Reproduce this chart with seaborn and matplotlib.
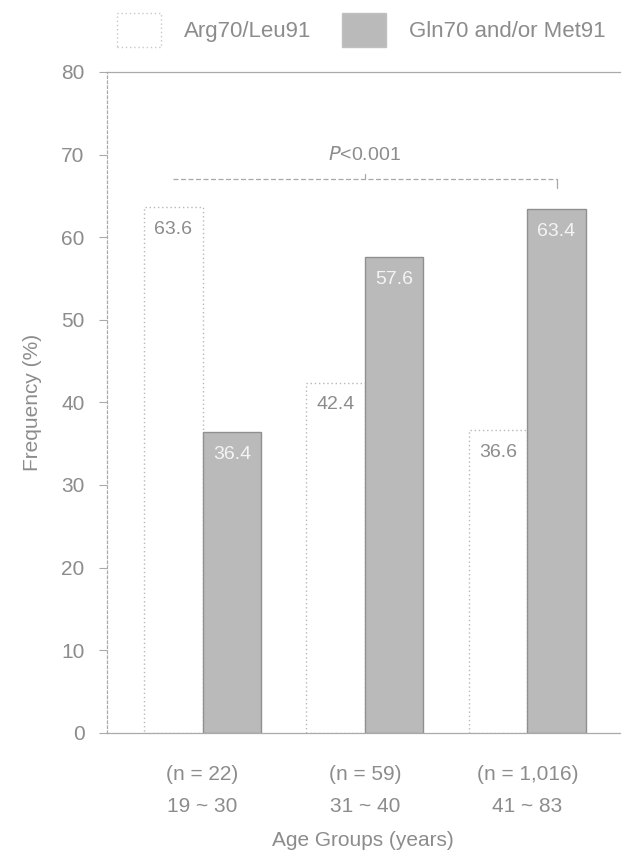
import pandas as pd
import numpy as np
import matplotlib.pyplot as plt
import seaborn as sns
from matplotlib.patches import Patch

# Data
groups = ['(n = 22)\n19 ~ 30', '(n = 59)\n31 ~ 40', '(n = 1,016)\n41 ~ 83']
genotypes = ['Arg70/Leu91', 'Gln70 and/or Met91']
arg_leu = [63.6, 42.4, 36.6]
gln_met = [36.4, 57.6, 63.4]

df = pd.DataFrame({
    'group': groups * 2,
    'genotype': [genotypes[0]] * 3 + [genotypes[1]] * 3,
    'freq': arg_leu + gln_met,
})

sns.set_style('white')
plt.rcParams['font.family'] = ['Liberation Sans', 'DejaVu Sans']
txt = '#8c8c8c'
grey = '#bababa'

fig = plt.figure(figsize=(6.28, 8.57), dpi=100)
ax = fig.add_axes([0.170, 0.145, 0.817, 0.771])

sns.barplot(data=df, x='group', y='freq', hue='genotype', order=groups,
            hue_order=genotypes, palette={genotypes[0]: 'white', genotypes[1]: grey},
            width=0.72, ax=ax, legend=False)

for bar in ax.containers[0]:
    bar.set_edgecolor('#b8b8b8')
    bar.set_linestyle((0, (1, 2)))
    bar.set_linewidth(1.0)
for bar in ax.containers[1]:
    bar.set_edgecolor('#909090')
    bar.set_linewidth(1.0)

ax.bar_label(ax.containers[0], fmt='%.1f', padding=-22, color=txt, fontsize=14)
ax.bar_label(ax.containers[1], fmt='%.1f', padding=-22, color='#f4f4f4', fontsize=14)

ax.set_ylim(0, 80)
ax.set_xlim(-0.59, 2.57)
ax.set_yticks(range(0, 81, 10))
ax.tick_params(axis='y', which='major', left=True, length=6, width=0.8,
               color='#aaaaaa', labelcolor=txt, labelsize=15, pad=10)
ax.tick_params(axis='x', bottom=False, labelcolor=txt, labelsize=15, pad=20)
for lab in ax.get_xticklabels():
    lab.set_linespacing(1.85)

for side in ['left', 'bottom', 'top']:
    ax.spines[side].set_color('#aaaaaa')
    ax.spines[side].set_linewidth(0.9)
ax.spines['left'].set_linestyle((0, (2, 2)))
ax.spines['right'].set_visible(False)

ax.set_ylabel('Frequency (%)', color=txt, fontsize=15, labelpad=14)
ax.set_xlabel('Age Groups (years)', color=txt, fontsize=15, labelpad=11)

# significance bracket
x0, x1, yb = -0.18, 2.18, 67.0
ax.plot([x0, x1], [yb, yb], color='#a8a8a8', lw=0.9, ls=(0, (4, 2)))
ax.plot([x1, x1], [yb, yb - 1.0], color='#a8a8a8', lw=0.9)
ax.plot([1.0, 1.0], [yb, yb + 0.6], color='#a8a8a8', lw=0.9)
ax.text(1.0, 70.0, r'$\it{P}$<0.001', ha='center', va='center', color=txt, fontsize=14)

handles = [Patch(facecolor='white', edgecolor='#c8c8c8', linestyle=(0, (1, 2)), label=genotypes[0]),
           Patch(facecolor=grey, edgecolor='#c0c0c0', label=genotypes[1])]
fig.legend(handles=handles, loc='upper center', bbox_to_anchor=(0.575, 1.008), ncol=2,
           frameon=False, fontsize=16, labelcolor=txt, handlelength=2.0, handleheight=2.0,
           columnspacing=1.4, handletextpad=1.0)

fig.savefig('out.png', dpi=100)
